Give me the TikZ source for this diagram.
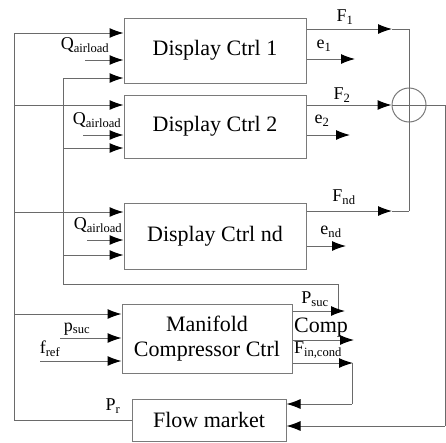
\documentclass[tikz,border=0pt]{standalone}
\usepackage{fontspec}
\setmainfont{Liberation Serif}
\usetikzlibrary{arrows.meta}
\definecolor{wire-gray}{HTML}{6A6A6A}
\definecolor{box-gray}{HTML}{7A7A7A}

\begin{document}
\begin{tikzpicture}[x=1pt, y=-1pt,
      every node/.style={font=\fontsize{18}{20}\selectfont, inner sep=0pt},
      box/.style={draw=box-gray, line width=1pt, align=center,
          font=\fontsize{22}{25}\selectfont},
      wire/.style={draw=wire-gray, line width=1pt},
      arr/.style={wire, -{Latex[length=14pt, width=10pt, color=black]}}]
    \useasboundingbox (0,0) rectangle (446,442);
    % blocks
    \node[box, minimum width=182pt, minimum height=65pt] (dcA) at (215,50.5) {Display Ctrl 1};
    \node[box, minimum width=182pt, minimum height=63pt] (dcB) at (215,126.5) {Display Ctrl 2};
    \node[box, minimum width=182pt, minimum height=66pt] (dcN) at (215,236) {Display Ctrl nd};
    \node[box, minimum width=170pt, minimum height=69pt] (man) at (207,338.5) {Manifold\\Compressor Ctrl};
    \node[box, minimum width=154pt, minimum height=42pt] (flow) at (209,420) {Flow market};
    \node[draw=box-gray, line width=1pt, circle, minimum size=34pt] (sum) at (409,105) {};
    % free ends
    \coordinate (outTop) at (14,33);
    \coordinate (outBot) at (14,420);
    \coordinate (inTop) at (63,78);
    \coordinate (inBot) at (63,284);
    \coordinate (pCorner) at (338,284);
    \coordinate (fCorner) at (409,29);
    \coordinate (ndCorner) at (409,211);
    \coordinate (rTop) at (445,105);
    \coordinate (rBot) at (445,426);
    \coordinate (condBot) at (352,404);
    % outer bus
    \draw[wire] (outTop) -- (outBot) -- (flow.west);
    \draw[arr] (outTop) -- (dcA.west |- outTop);
    \draw[arr] (14,105) -- (dcB.west |- 0,105);
    \draw[arr] (14,212) -- (dcN.west |- 0,212);
    \draw[arr] (14,314) -- (man.west |- 0,314);
    \node (pr) at (113,406) {P\textsubscript{r}};
    % inner bus from P_suc
    \draw[wire] (inTop) -- (inBot) -- (pCorner) -- (338,311);
    \draw[arr] (inTop) -- (dcA.west |- inTop);
    \draw[arr] (63,148) -- (dcB.west |- 0,148);
    \draw[arr] (63,255) -- (dcN.west |- 0,255);
    % airload inputs
    \draw[arr] (85,60) -- (dcA.west |- 0,60);
    \draw[arr] (83,135) -- (dcB.west |- 0,135);
    \draw[arr] (87,240) -- (dcN.west |- 0,240);
    \node (qA) at (85,45) {Q\textsubscript{airload}};
    \node (qB) at (97,120) {Q\textsubscript{airload}};
    \node (qN) at (98,225) {Q\textsubscript{airload}};
    % manifold inputs
    \draw[arr] (60,338) -- (man.west |- 0,338);
    \draw[arr] (40,361) -- (man.west |- 0,361);
    \node (psuc) at (77,329) {p\textsubscript{suc}};
    \node (fref) at (50,349) {f\textsubscript{ref}};
    % controller outputs
    \draw[arr] (dcA.east |- fCorner) -- (392,29);
    \draw[wire] (392,29) -- (fCorner) -- (ndCorner);
    \draw[arr] (dcA.east |- 0,59) -- (355,59);
    \draw[arr] (dcB.east |- sum) -- (sum.west);
    \draw[arr] (dcB.east |- 0,135) -- (350,135);
    \draw[arr] (dcN.east |- ndCorner) -- (392,211);
    \draw[wire] (392,211) -- (ndCorner);
    \draw[arr] (dcN.east |- 0,246) -- (346,246);
    \draw[wire] (sum.west) -- (rTop) -- (rBot);
    \draw[arr] (rBot) -- (flow.east |- rBot);
    \node (fA) at (345,17) {F\textsubscript{1}};
    \node (eA) at (324,46) {e\textsubscript{1}};
    \node (fB) at (342,95) {F\textsubscript{2}};
    \node (eB) at (322,121) {e\textsubscript{2}};
    \node (fN) at (344,197) {F\textsubscript{nd}};
    \node (eN) at (331,232) {e\textsubscript{nd}};
    % manifold outputs
    \draw[arr] (man.east |- 0,311) -- (345,311);
    \draw[arr] (man.east |- 0,340) -- (354,340);
    \draw[arr] (man.east |- 0,363) -- (353,363);
    \draw[wire] (352,363) -- (condBot);
    \draw[arr] (condBot) -- (flow.east |- condBot);
    \node (pout) at (315,299) {P\textsubscript{suc}};
    \node[font=\fontsize{22}{24}\selectfont] (comp) at (321,328) {Comp};
    \node (fcond) at (318,350) {F\textsubscript{in,cond}};
  \end{tikzpicture}
\end{document}
